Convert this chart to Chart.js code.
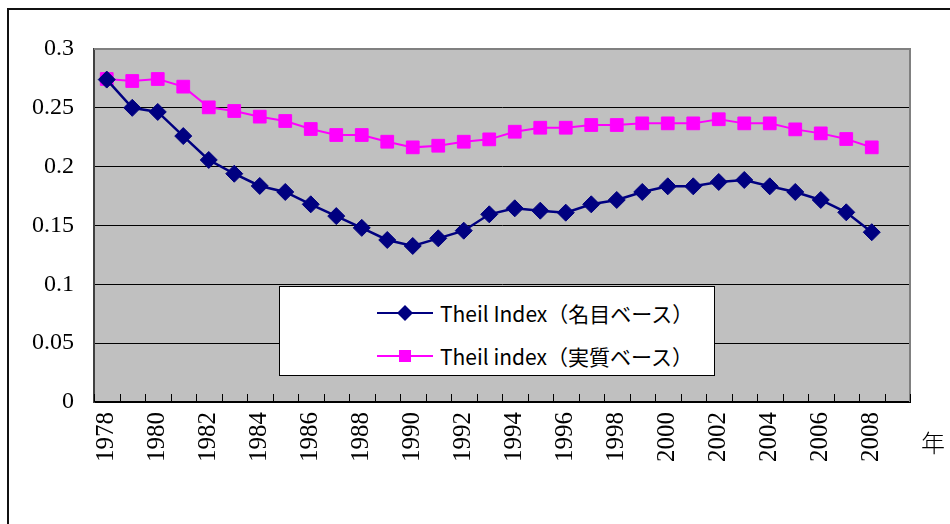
<!DOCTYPE html>
<html>
<head>
<meta charset="utf-8">
<script src="https://cdn.jsdelivr.net/npm/chart.js@4.4.1/dist/chart.umd.min.js"></script>
<style>
  html, body { margin:0; padding:0; width:950px; height:524px; overflow:hidden; background:#fff; }
  #frame { position:absolute; left:7px; top:8px; width:1200px; height:800px; border-left:2px solid #111; border-top:2px solid #111; }
  #c { position:absolute; left:0; top:0; }
  #legend { position:absolute; left:279px; top:286px; width:436px; height:90px; background:#fff; border:1px solid #000; box-sizing:border-box;
            font-family:"Noto Sans CJK JP","Noto Sans",sans-serif; font-size:21px; color:#000; }
  .row { position:absolute; left:0; height:30px; }
  .row svg { position:absolute; left:97px; top:0; }
  .row span { position:absolute; left:160px; white-space:nowrap; line-height:30px; top:0; }
  #unit { position:absolute; left:921px; top:428px; font-family:"Noto Sans CJK JP",sans-serif; font-weight:300; font-size:24px; line-height:28px; color:#000; }
</style>
</head>
<body>
<div id="frame"></div>
<canvas id="c" width="950" height="524"></canvas>
<div id="legend">
  <div class="row" style="top:11px;width:432px;">
    <svg width="56" height="30"><line x1="0" y1="15" x2="56" y2="15" stroke="#000080" stroke-width="2"/><polygon points="28,7 36,15 28,23 20,15" fill="#000080"/></svg>
    <span id="lab0"></span>
  </div>
  <div class="row" style="top:54px;width:432px;">
    <svg width="56" height="30"><line x1="0" y1="15" x2="56" y2="15" stroke="#FF00FF" stroke-width="2"/><rect x="22" y="9" width="12" height="12" fill="#FF00FF"/></svg>
    <span id="lab1"></span>
  </div>
</div>
<div id="unit">年</div>
<script>
// ---- data ----
const years = ['1978','1979','1980','1981','1982','1983','1984','1985','1986','1987','1988','1989','1990','1991','1992','1993','1994','1995','1996','1997','1998','1999','2000','2001','2002','2003','2004','2005','2006','2007','2008','2009'];
const seriesNames = ['Theil Index（名目ベース）', 'Theil index（実質ベース）'];
const nominal = [0.274,0.250,0.2465,0.226,0.2057,0.194,0.1836,0.1785,0.168,0.158,0.148,0.1377,0.1326,0.1391,0.1456,0.1595,0.1646,0.1626,0.1609,0.168,0.1717,0.1785,0.1833,0.1833,0.187,0.1887,0.1833,0.1785,0.1717,0.1612,0.1443,null];
const real = [0.2745,0.2728,0.2745,0.268,0.2504,0.2473,0.2425,0.2388,0.232,0.2269,0.2269,0.2212,0.2164,0.2178,0.2212,0.2232,0.2297,0.2331,0.2331,0.2354,0.2354,0.2368,0.2368,0.2368,0.2403,0.2368,0.2368,0.2317,0.2283,0.2235,0.2164,null];
const yTicks = [0, 0.05, 0.1, 0.15, 0.2, 0.25, 0.3];

document.getElementById('lab0').textContent = seriesNames[0];
document.getElementById('lab1').textContent = seriesNames[1];

const SERIF = "'Liberation Serif', 'Times New Roman', serif";
Chart.defaults.font.family = SERIF;
Chart.defaults.font.size = 24;
Chart.defaults.color = '#000';

const plotDeco = {
  id: 'plotDeco',
  beforeDraw(chart) {
    const a = chart.chartArea, ctx = chart.ctx;
    ctx.save();
    ctx.fillStyle = '#C0C0C0';
    ctx.fillRect(a.left, a.top, a.right - a.left, a.bottom - a.top);
    ctx.restore();
  },
  beforeDatasetsDraw(chart) {
    const a = chart.chartArea, ctx = chart.ctx, xs = chart.scales.x;
    ctx.save();
    ctx.strokeStyle = '#808080';
    ctx.lineWidth = 2;
    ctx.beginPath();
    ctx.moveTo(a.left, a.top); ctx.lineTo(a.right, a.top); ctx.lineTo(a.right, a.bottom);
    ctx.stroke();
    const step = xs.getPixelForValue(1) - xs.getPixelForValue(0);
    ctx.strokeStyle = '#000';
    ctx.lineWidth = 1;
    ctx.beginPath();
    for (let i = 0; i <= years.length; i++) {
      const px = Math.round(xs.getPixelForValue(0) - step / 2 + i * step) + 0.5;
      ctx.moveTo(px, a.bottom); ctx.lineTo(px, a.bottom - 8);
    }
    ctx.stroke();
    ctx.restore();
  }
};

new Chart(document.getElementById('c'), {
  type: 'line',
  data: {
    labels: years,
    datasets: [
      { label: seriesNames[0], data: nominal, borderColor: '#000080', backgroundColor: '#000080', borderWidth: 2.5,
        pointStyle: 'rectRot', pointRadius: 8.5, pointHoverRadius: 8.5, pointBorderWidth: 1, pointBorderColor: '#000080', tension: 0 },
      { label: seriesNames[1], data: real, borderColor: '#FF00FF', backgroundColor: '#FF00FF', borderWidth: 2,
        pointStyle: 'rect', pointRadius: 9, pointHoverRadius: 9, pointBorderWidth: 1, pointBorderColor: '#FF00FF', tension: 0 }
    ]
  },
  options: {
    responsive: false,
    animation: false,
    devicePixelRatio: 1,
    layout: { padding: { top: 49, right: 40, bottom: 0, left: 0 } },
    plugins: { legend: { display: false }, tooltip: { enabled: false } },
    scales: {
      x: {
        offset: true,
        afterFit(s) { s.height = 122; },
        grid: { display: true, drawOnChartArea: false, drawTicks: false, offset: true },
        border: { display: true, color: '#000', width: 2 },
        ticks: {
          autoSkip: false, minRotation: 90, maxRotation: 90, padding: 10,
          color: '#000', font: { family: SERIF, size: 25 },
          callback(v, i) { return i % 2 === 0 ? years[i] : ''; }
        }
      },
      y: {
        min: 0, max: 0.3,
        afterFit(s) { s.width = 94; },
        afterBuildTicks(s) { s.ticks = yTicks.map(v => ({ value: v })); },
        grid: { drawTicks: false, lineWidth: 1,
          color(ctx) { const v = ctx.tick && ctx.tick.value; return (v === 0.3 || v === 0) ? 'rgba(0,0,0,0)' : '#000'; } },
        border: { display: true, color: '#404040', width: 2 },
        ticks: { padding: 20, color: '#000', font: { family: SERIF, size: 24 },
          callback(v) { return String(v); } }
      }
    }
  },
  plugins: [plotDeco]
});
</script>
</body>
</html>
